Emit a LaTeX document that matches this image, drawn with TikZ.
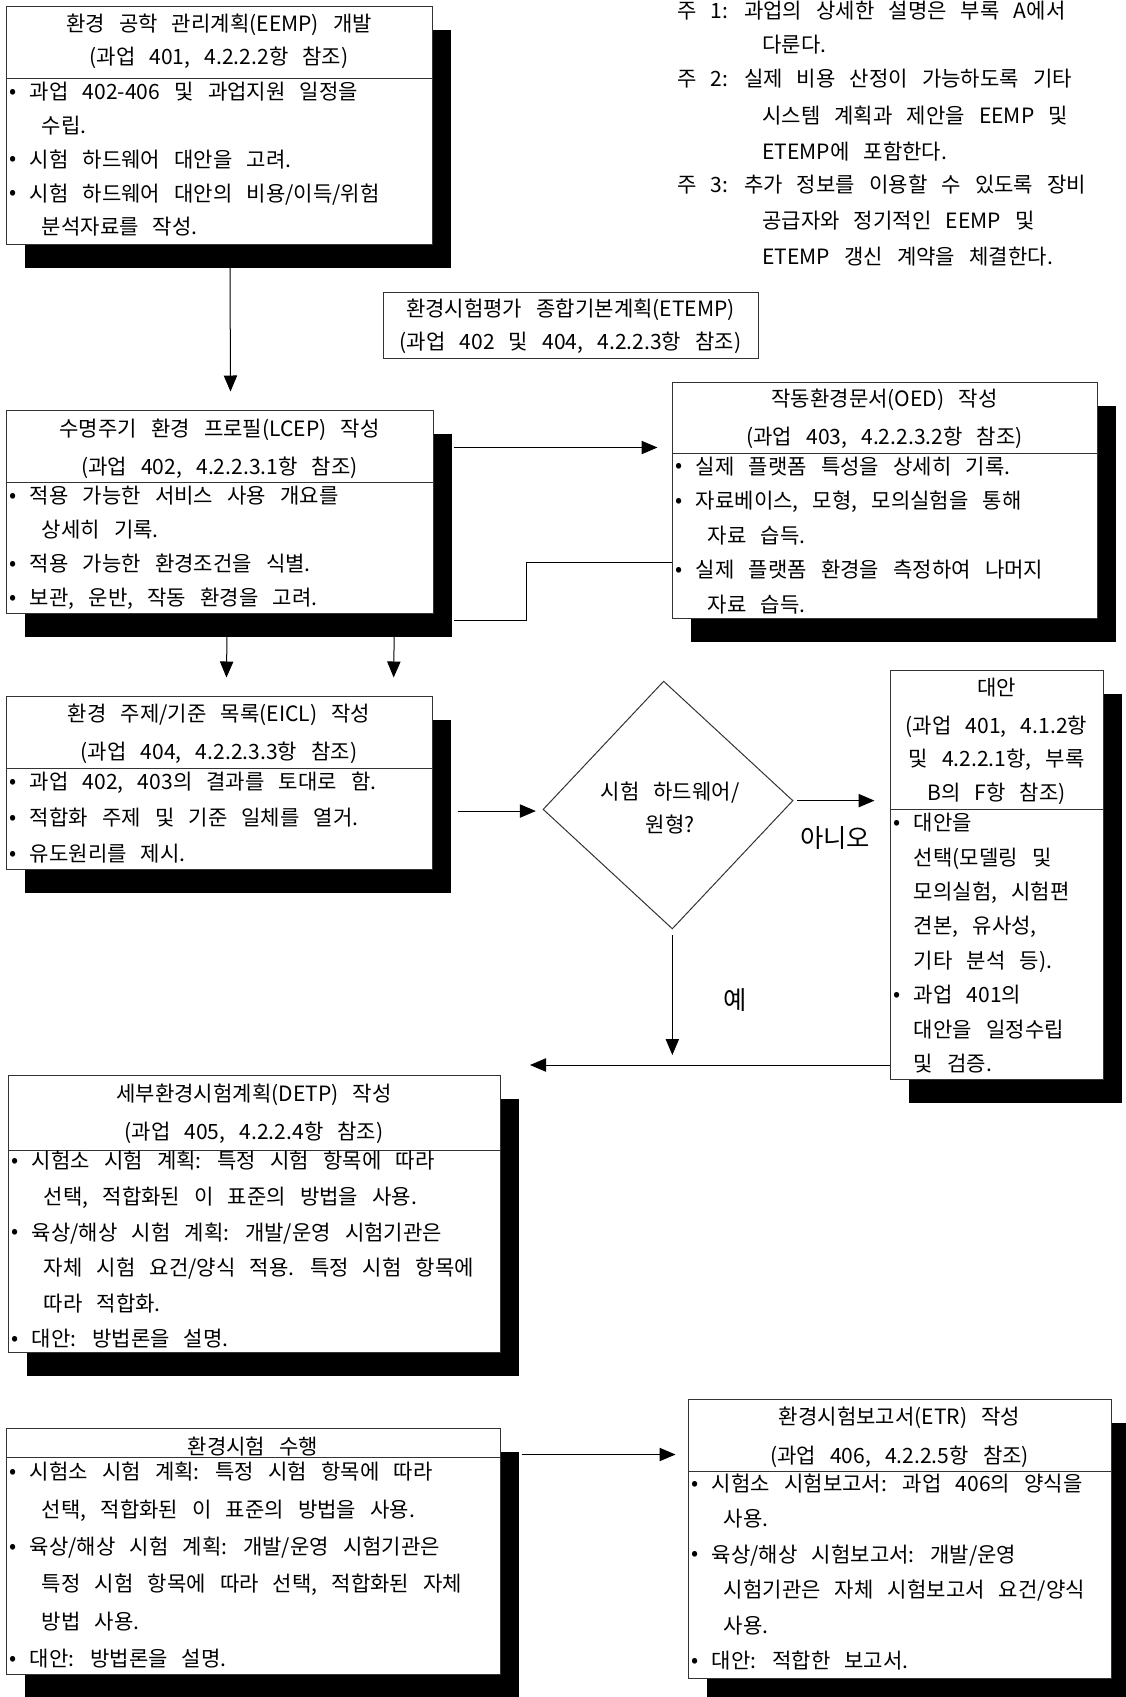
\documentclass[tikz,border=0pt]{standalone}
\usepackage{fontspec}
\setmainfont{Noto Sans CJK KR}[WordSpace=3.0]
\usetikzlibrary{shapes.geometric,shadows,arrows.meta,fit}

% bullet with fixed width, and indent of wrapped lines
\newcommand\bu{\makebox[17pt][l]{\hspace{2pt}\raisebox{1pt}{•}}}
\newcommand\cont{\hspace*{26pt}}

\begin{document}
\begin{tikzpicture}[x=0.75pt,y=-0.75pt,
  frame/.style={draw=black!80, line width=0.75pt, fill=white, inner sep=0pt,
    drop shadow={shadow xshift=14.5pt, shadow yshift=-18pt, opacity=1, fill=black}},
  plainframe/.style={draw=black!80, line width=0.75pt, fill=white, inner sep=0pt},
  rule/.style={draw=black!80, line width=0.75pt},
  txt/.style={inner sep=0pt, font=\fontsize{15.8}{#1}\selectfont},
  ttl/.style={txt=#1, align=center, anchor=north, execute at begin node={\rule{0pt}{15pt}}},
  body/.style={txt=#1, align=left, anchor=north west, execute at begin node={\rule{0pt}{15pt}}},
  arr/.style={draw=black, line width=0.75pt, -{Triangle[length=12pt,width=10pt]}},
  link/.style={draw=black, line width=0.75pt},
]
\useasboundingbox (0,0) rectangle (1126,1697);

% ---------- boxes ----------
\node[frame, fit={(6,6) (432,244)}] (eemp) {};
\draw[rule] (eemp.west |- 0,78) -- (eemp.east |- 0,78);

\node[plainframe, fit={(383,292) (758,358)}] (etemp) {};

\node[frame, fit={(6,410) (433,613)}] (lcep) {};
\draw[rule] (lcep.west |- 0,482) -- (lcep.east |- 0,482);

\node[frame, fit={(672,382) (1097,618)}] (oed) {};
\draw[rule] (oed.west |- 0,453) -- (oed.east |- 0,453);

\node[frame, fit={(6,696) (432,869)}] (eicl) {};
\draw[rule] (eicl.west |- 0,768) -- (eicl.east |- 0,768);

\node[draw=black!80, line width=0.75pt, shape=diamond, minimum width=187.6pt,
  minimum height=186pt, inner sep=0pt, rotate=2] (dia) at (668,805) {};

\node[frame, fit={(890,670) (1103,1079)}] (alt) {};
\draw[rule] (alt.west |- 0,809) -- (alt.east |- 0,809);

\node[frame, fit={(8,1075) (500,1352)}] (detp) {};
\draw[rule] (detp.west |- 0,1150) -- (detp.east |- 0,1150);

\node[frame, fit={(6,1428) (500,1674)}] (etest) {};
\draw[rule] (etest.west |- 0,1457) -- (etest.east |- 0,1457);

\node[frame, fit={(688,1399) (1111,1678)}] (etr) {};
\draw[rule] (etr.west |- 0,1471) -- (etr.east |- 0,1471);

% ---------- texts ----------
\node[ttl=24.75pt] (eempT) at (219,14) {환경 공학 관리계획(EEMP) 개발\\(과업 401, 4.2.2.2항 참조)};
\node[body=25.35pt] (eempB) at (7,82) {\bu 과업 402-406 및 과업지원 일정을\\
  \cont 수립.\\
  \bu 시험 하드웨어 대안을 고려.\\
  \bu 시험 하드웨어 대안의 비용/이득/위험\\
  \cont 분석자료를 작성.};

\node[body=25.5pt] (note1) at (677,1) {주 1: 과업의 상세한 설명은 부록 A에서\\
  \hspace*{63.75pt}다룬다.};
\node[body=27.4pt] (note2) at (677,69) {주 2: 실제 비용 산정이 가능하도록 기타\\
  \hspace*{63.75pt}시스템 계획과 제안을 EEMP 및\\
  \hspace*{63.75pt}ETEMP에 포함한다.};
\node[body=27pt] (note3) at (677,174.5) {주 3: 추가 정보를 이용할 수 있도록 장비\\
  \hspace*{63.75pt}공급자와 정기적인 EEMP 및\\
  \hspace*{63.75pt}ETEMP 갱신 계약을 체결한다.};

\node[ttl=24.75pt] (etempT) at (570.5,299) {환경시험평가 종합기본계획(ETEMP)\\(과업 402 및 404, 4.2.2.3항 참조)};

\node[ttl=28.5pt] (lcepT) at (219.5,418.5) {수명주기 환경 프로필(LCEP) 작성\\(과업 402, 4.2.2.3.1항 참조)};
\node[body=25.5pt] (lcepB) at (7,486) {\bu 적용 가능한 서비스 사용 개요를\\
  \cont 상세히 기록.\\
  \bu 적용 가능한 환경조건을 식별.\\
  \bu 보관, 운반, 작동 환경을 고려.};

\node[ttl=28.5pt] (oedT) at (884.5,389) {작동환경문서(OED) 작성\\(과업 403, 4.2.2.3.2항 참조)};
\node[body=25.9pt] (oedB) at (673,456.5) {\bu 실제 플랫폼 특성을 상세히 기록.\\
  \bu 자료베이스, 모형, 모의실험을 통해\\
  \cont 자료 습득.\\
  \bu 실제 플랫폼 환경을 측정하여 나머지\\
  \cont 자료 습득.};

\node[ttl=28.5pt] (eiclT) at (219,704) {환경 주제/기준 목록(EICL) 작성\\(과업 404, 4.2.2.3.3항 참조)};
\node[body=27pt] (eiclB) at (7,772) {\bu 과업 402, 403의 결과를 토대로 함.\\
  \bu 적합화 주제 및 기준 일체를 열거.\\
  \bu 유도원리를 제시.};

\node[txt=24.75pt, align=center] (diaL) at (670,808) {시험 하드웨어/\\원형?};
\node[inner sep=0pt, font=\fontsize{19}{22}\selectfont] (noL) at (835,838) {아니오};
\node[inner sep=0pt, font=\fontsize{19}{22}\selectfont] (yesL) at (735,1000) {예};

\node[ttl=25.1pt] (altT) at (996.5,678) {대안\\[3pt](과업 401, 4.1.2항\\및 4.2.2.1항, 부록\\B의 F항 참조)};
\node[body=25.8pt] (altB) at (891,813) {\bu 대안을\\
  \hspace*{17pt}선택(모델링 및\\
  \hspace*{17pt}모의실험, 시험편\\
  \hspace*{17pt}견본, 유사성,\\
  \hspace*{17pt}기타 분석 등).\\
  \bu 과업 401의\\
  \hspace*{17pt}대안을 일정수립\\
  \hspace*{17pt}및 검증.};

\node[ttl=28.5pt] (detpT) at (254,1084) {세부환경시험계획(DETP) 작성\\(과업 405, 4.2.2.4항 참조)};
\node[body=26.7pt] (detpB) at (9,1151) {\bu 시험소 시험 계획: 특정 시험 항목에 따라\\
  \cont 선택, 적합화된 이 표준의 방법을 사용.\\
  \bu 육상/해상 시험 계획: 개발/운영 시험기관은\\
  \cont 자체 시험 요건/양식 적용. 특정 시험 항목에\\
  \cont 따라 적합화.\\
  \bu 대안: 방법론을 설명.};

\node[ttl=20pt] (etestT) at (253,1434.5) {환경시험 수행};
\node[body=28pt] (etestB) at (7,1462) {\bu 시험소 시험 계획: 특정 시험 항목에 따라\\
  \cont 선택, 적합화된 이 표준의 방법을 사용.\\
  \bu 육상/해상 시험 계획: 개발/운영 시험기관은\\
  \cont 특정 시험 항목에 따라 선택, 적합화된 자체\\
  \cont 방법 사용.\\
  \bu 대안: 방법론을 설명.};

\node[ttl=29.25pt] (etrT) at (899.5,1407) {환경시험보고서(ETR) 작성\\(과업 406, 4.2.2.5항 참조)};
\node[body=26.6pt] (etrB) at (689,1473.5) {\bu 시험소 시험보고서: 과업 406의 양식을\\
  \cont 사용.\\
  \bu 육상/해상 시험보고서: 개발/운영\\
  \cont 시험기관은 자체 시험보고서 요건/양식\\
  \cont 사용.\\
  \bu 대안: 적합한 보고서.};

% ---------- connectors ----------
\coordinate (merge) at (530,1065);
\coordinate (eiclOut) at ([xshift=18.75pt,yshift=-21.4pt]eicl.east);
\coordinate (diaOut) at ([xshift=3pt]dia.east);
\coordinate (etestOut) at ([xshift=15.75pt,yshift=-20.25pt]etest.north east);

\draw[arr] ([xshift=8.25pt,yshift=-17.25pt]eemp.south) -- ([xshift=8.25pt,yshift=13.5pt]lcep.north);
\draw[arr] ([xshift=15pt,yshift=-28.5pt]lcep.north east) -- ([xshift=-10.5pt,yshift=-49.5pt]oed.north west);
\draw[link] ([yshift=-135.75pt]oed.north west) -- ++(-145,0) |- ([xshift=15pt,yshift=-5.25pt]lcep.south east);
\draw[arr] ([xshift=5.6pt,yshift=-17.25pt]lcep.south) -- ([xshift=5.6pt,yshift=13.5pt]eicl.north);
\draw[arr] ([xshift=131pt,yshift=-17.25pt]lcep.south) -- ([xshift=131pt,yshift=13.5pt]eicl.north);
\draw[arr, shorten >=5pt] (eiclOut) -- (eiclOut -| dia.west);
\draw[arr, shorten >=11.25pt] (diaOut) -- (diaOut -| alt.west);
\draw[arr] ([yshift=-4.5pt]dia.south) -- ([yshift=7.5pt]dia.south |- merge);
\draw[arr] (alt.west |- merge) -- (merge);
\draw[arr, shorten >=9pt] (etestOut) -- (etestOut -| etr.west);
\end{tikzpicture}
\end{document}
